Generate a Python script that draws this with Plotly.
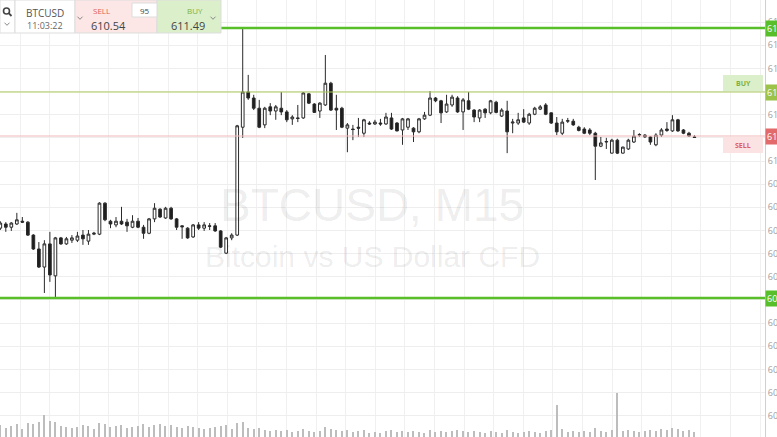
import plotly.graph_objects as go

# ---------------- data (BTCUSD, M15 candles) ----------------
opens = [608.55, 608.64, 608.57, 608.64, 608.70, 608.68, 608.40, 608.10, 607.71, 608.21,
         607.52, 608.34, 608.21, 608.29, 608.29, 608.40, 608.27, 608.42, 608.42, 609.09,
         608.70, 608.62, 608.70, 608.68, 608.57, 608.70, 608.57, 608.44, 608.75, 608.96,
         608.77, 608.98, 608.75, 608.60, 608.55, 608.36, 608.62, 608.55, 608.60, 608.60,
         608.49, 608.01, 608.34, 608.40, 610.73, 611.49, 611.36, 611.14, 610.78, 611.17,
         611.08, 611.14, 611.06, 610.91, 610.93, 610.93, 611.45, 611.23, 611.08, 611.21,
         611.68, 611.14, 611.14, 610.71, 610.69, 610.73, 610.60, 610.82, 610.80, 610.82,
         610.80, 610.93, 610.82, 610.67, 610.73, 610.71, 610.63, 610.91, 610.99, 611.36,
         611.30, 611.06, 611.21, 611.36, 611.06, 611.30, 611.10, 610.93, 611.12, 611.04,
         611.27, 610.97, 611.08, 610.82, 610.82, 610.93, 610.82, 611.01, 611.12, 611.21,
         611.04, 610.82, 610.60, 610.86, 610.86, 610.73, 610.69, 610.67, 610.60, 610.32,
         610.41, 610.17, 610.45, 610.17, 610.26, 610.41, 610.56, 610.56, 610.52, 610.35,
         610.56, 610.69, 610.65, 610.89, 610.67, 610.60, 610.52]
highs = [608.70, 608.68, 608.68, 608.88, 608.79, 608.70, 608.42, 608.25, 608.29, 608.47,
         608.36, 608.36, 608.36, 608.40, 608.47, 608.51, 608.51, 608.47, 609.11, 609.11,
         608.73, 608.79, 609.01, 608.75, 608.83, 608.77, 608.62, 608.77, 609.09, 608.98,
         609.01, 609.01, 608.77, 608.61, 608.57, 608.64, 608.68, 608.68, 608.66, 608.66,
         608.51, 608.36, 608.44, 610.78, 612.87, 611.86, 611.43, 611.32, 611.17, 611.25,
         611.21, 611.49, 611.10, 610.99, 611.21, 611.49, 611.47, 611.25, 611.27, 612.29,
         611.71, 611.43, 611.17, 610.82, 610.78, 610.93, 610.91, 610.86, 610.89, 610.91,
         611.04, 611.04, 610.84, 610.93, 610.93, 610.73, 610.93, 611.06, 611.51, 611.38,
         611.32, 611.43, 611.43, 611.40, 611.36, 611.49, 611.12, 611.12, 611.14, 611.32,
         611.30, 611.14, 611.30, 610.91, 611.04, 611.12, 611.04, 611.17, 611.21, 611.25,
         611.05, 610.95, 610.91, 610.93, 610.91, 610.76, 610.73, 610.71, 610.63, 610.52,
         610.50, 610.48, 610.48, 610.31, 610.48, 610.67, 610.60, 610.58, 610.54, 610.60,
         610.71, 610.84, 610.99, 610.91, 610.69, 610.63, 610.56]
lows = [608.51, 608.47, 608.49, 608.62, 608.66, 608.38, 608.08, 607.69, 607.15, 607.39,
        607.06, 608.19, 608.19, 608.23, 608.25, 608.19, 608.19, 608.40, 608.40, 608.70,
        608.55, 608.57, 608.62, 608.47, 608.55, 608.55, 608.32, 608.42, 608.68, 608.77,
        608.75, 608.73, 608.51, 608.32, 608.32, 608.34, 608.51, 608.49, 608.51, 608.47,
        608.12, 607.99, 608.29, 608.38, 610.50, 611.32, 611.10, 610.71, 610.71, 610.99,
        610.89, 610.99, 610.84, 610.78, 610.84, 610.91, 611.23, 611.04, 610.93, 611.19,
        611.08, 610.67, 610.71, 610.19, 610.45, 610.52, 610.52, 610.78, 610.78, 610.76,
        610.78, 610.67, 610.64, 610.35, 610.67, 610.41, 610.60, 610.89, 610.97, 611.27,
        610.82, 611.04, 611.17, 611.04, 610.67, 611.10, 610.84, 610.84, 610.93, 611.01,
        611.03, 610.95, 610.17, 610.60, 610.78, 610.82, 610.78, 610.99, 611.10, 610.99,
        610.80, 610.56, 610.56, 610.82, 610.76, 610.64, 610.58, 610.56, 609.59, 610.30,
        610.26, 610.16, 610.15, 610.16, 610.24, 610.39, 610.52, 610.50, 610.35, 610.32,
        610.52, 610.63, 610.63, 610.63, 610.58, 610.52, 610.50]
closes = [608.66, 608.57, 608.66, 608.73, 608.68, 608.40, 608.10, 607.71, 608.21, 607.54,
          608.34, 608.21, 608.32, 608.34, 608.38, 608.32, 608.42, 608.44, 609.09, 608.73,
          608.64, 608.70, 608.64, 608.60, 608.70, 608.57, 608.44, 608.75, 608.98, 608.79,
          608.98, 608.75, 608.57, 608.58, 608.34, 608.62, 608.55, 608.62, 608.59, 608.49,
          608.14, 608.34, 608.40, 610.76, 611.49, 611.36, 611.14, 610.73, 611.14, 611.08,
          611.17, 611.06, 610.89, 610.95, 610.92, 611.47, 611.25, 611.05, 611.25, 611.68,
          611.10, 611.10, 610.73, 610.78, 610.68, 610.71, 610.89, 610.80, 610.84, 610.80,
          610.95, 610.69, 610.65, 610.91, 610.91, 610.63, 610.91, 610.99, 611.36, 611.30,
          611.04, 611.23, 611.38, 611.06, 611.32, 611.12, 610.95, 611.10, 611.04, 611.30,
          611.05, 611.10, 610.63, 610.84, 610.89, 610.84, 611.01, 611.14, 611.17, 611.01,
          610.82, 610.63, 610.84, 610.87, 610.78, 610.66, 610.60, 610.60, 610.32, 610.39,
          610.42, 610.45, 610.17, 610.30, 610.45, 610.54, 610.57, 610.52, 610.41, 610.56,
          610.67, 610.66, 610.89, 610.65, 610.60, 610.54, 610.51]
volumes = [120, 90, 110, 130, 80, 140, 130, 150, 220, 160,
           150, 110, 100, 90, 100, 120, 110, 80, 140, 130,
           100, 110, 120, 90, 100, 110, 130, 100, 120, 130,
           110, 120, 100, 90, 110, 100, 90, 80, 90, 100,
           110, 120, 80, 140, 150, 90, 80, 90, 70, 60,
           70, 60, 70, 50, 60, 80, 60, 50, 60, 100,
           80, 70, 60, 70, 50, 60, 70, 40, 50, 40,
           60, 70, 50, 60, 50, 60, 50, 40, 70, 50,
           60, 50, 60, 70, 60, 50, 60, 50, 40, 60,
           50, 40, 70, 50, 40, 50, 60, 50, 40, 60,
           70, 320, 80, 50, 60, 50, 60, 50, 90, 60,
           50, 70, 440, 60, 70, 60, 50, 60, 70, 60,
           80, 70, 90, 80, 60, 70, 50]
candle_index = list(range(len(opens)))

SYMBOL = "BTCUSD"
CLOCK = "11:03:22"
SELL_PRICE = 610.54
BUY_PRICE = 611.49
SPREAD = "95"
RESISTANCE = 612.87
SUPPORT = 607.04
TITLE_1 = "BTCUSD, M15"
TITLE_2 = "Bitcoin vs US Dollar CFD"

# ---------------- layout helpers ----------------
W, H = 777, 437
PW = 765.0  # plot area width in px


def px(x):
    return x / PW


def py(y):
    return 1 - y / H


GREEN = "#58bf2b"
BUY_LINE = "#a9c95a"
SELL_LINE = "#f1b9b9"
FONT = "Open Sans"

fig = go.Figure()
fig.add_trace(go.Bar(x=candle_index, y=volumes, yaxis="y2", width=0.22,
                     marker=dict(color="#bdbdbd", line=dict(width=0)),
                     hoverinfo="skip", showlegend=False))
fig.add_trace(go.Candlestick(
    x=candle_index, open=opens, high=highs, low=lows, close=closes,
    increasing=dict(line=dict(color="#2a2a2a", width=1), fillcolor="#ffffff"),
    decreasing=dict(line=dict(color="#2a2a2a", width=1), fillcolor="#1e1e1e"),
    whiskerwidth=0, showlegend=False))

shapes = []
annotations = []


def label(x, y, text, color, size, family=FONT, **kw):
    d = dict(xref="paper", yref="paper", x=px(x), y=py(y), text=text, showarrow=False,
             xanchor="center", yanchor="middle",
             font=dict(color=color, size=size, family=family))
    d.update(kw)
    annotations.append(d)


# price lines
for level, color, w in [(RESISTANCE, GREEN, 2.5), (BUY_PRICE, BUY_LINE, 1.2),
                        (SELL_PRICE, SELL_LINE, 1.2), (SUPPORT, GREEN, 2.5)]:
    shapes.append(dict(type="line", xref="paper", yref="y", x0=0, x1=1, y0=level, y1=level,
                       line=dict(color=color, width=w), layer="above"))

# axis price tags
for level, color in [(RESISTANCE, GREEN), (BUY_PRICE, "#9cc24a"),
                     (SELL_PRICE, "#e26a6a"), (SUPPORT, GREEN)]:
    annotations.append(dict(xref="paper", yref="y", x=1.0, y=level, xanchor="left",
                            yanchor="middle", text=f"{level:.2f}", showarrow=False,
                            bgcolor=color, borderpad=1,
                            font=dict(color="white", size=9, family=FONT)))

# right-side BUY / SELL boxes
shapes.append(dict(type="rect", xref="paper", yref="paper", x0=px(723), x1=px(763),
                   y0=py(91), y1=py(75), fillcolor="#dcefcb", line=dict(width=0), layer="above"))
label(743, 83.5, "<b>BUY</b>", "#7fb23f", 7)
shapes.append(dict(type="rect", xref="paper", yref="paper", x0=px(723), x1=px(763),
                   y0=py(153), y1=py(137), fillcolor="#fbe3e3", line=dict(width=0), layer="above"))
label(743, 145.5, "<b>SELL</b>", "#e06060", 7)

# top-left trading panel
panel_boxes = [
    (0, 15, "#ffffff"), (15, 75, "#ffffff"), (75, 157, "#fce6e6"), (157, 221, "#dcefcb"),
]
for x0, x1, fc in panel_boxes:
    shapes.append(dict(type="rect", xref="paper", yref="paper", x0=px(x0), x1=px(x1),
                       y0=py(33), y1=py(0), fillcolor=fc,
                       line=dict(color="#dddddd", width=1), layer="above"))
shapes.append(dict(type="rect", xref="paper", yref="paper", x0=px(132), x1=px(157),
                   y0=py(17), y1=py(3), fillcolor="#ffffff",
                   line=dict(color="#dddddd", width=1), layer="above"))
# magnifier icon
shapes.append(dict(type="circle", xref="paper", yref="paper", x0=px(3.5), x1=px(9.5),
                   y0=py(14), y1=py(8), line=dict(color="#444444", width=1.6), layer="above"))
shapes.append(dict(type="line", xref="paper", yref="paper", x0=px(8.7), x1=px(11.5),
                   y0=py(13.2), y1=py(16), line=dict(color="#444444", width=1.8), layer="above"))


def chevron(cx, cy):
    return (f"M {px(cx - 2.5)} {py(cy - 1.3)} L {px(cx)} {py(cy + 1.3)} "
            f"L {px(cx + 2.5)} {py(cy - 1.3)}")


for cx, cy in [(7, 24), (80, 18), (213, 18)]:
    shapes.append(dict(type="path", xref="paper", yref="paper", path=chevron(cx, cy),
                       line=dict(color="#888888", width=1), layer="above"))

label(45, 13, SYMBOL, "#555555", 10)
label(45, 25.5, CLOCK, "#666666", 9)
label(101, 10.5, "SELL", "#e0605a", 8)
label(108, 25, f"{SELL_PRICE:.2f}", "#444444", 11)
label(144.5, 10, SPREAD, "#444444", 8)
label(195, 10.5, "BUY", "#7fb23f", 8)
label(188, 25, f"{BUY_PRICE:.2f}", "#444444", 11)

# watermark
label(372, 205, TITLE_1, "rgba(0,0,0,0.085)", 46, family="Liberation Sans")
label(372, 256, TITLE_2, "rgba(0,0,0,0.085)", 30, family="Liberation Sans")

fig.update_layout(
    width=W, height=H,
    margin=dict(l=0, r=W - PW, t=0, b=0, pad=0, autoexpand=False),
    paper_bgcolor="white", plot_bgcolor="white",
    showlegend=False,
    xaxis=dict(range=[-0.055, 138.8], rangeslider=dict(visible=False), automargin=False,
               showticklabels=False, showgrid=True, gridcolor="#f0f0f0",
               tick0=3.58, dtick=5.373, zeroline=False, showline=False),
    yaxis=dict(range=[604.04, 613.477], side="right", dtick=0.5, tick0=0, automargin=False,
               showgrid=True, gridcolor="#eeeeee", zeroline=False,
               showline=True, linecolor="#d0d0d0", linewidth=1,
               tickfont=dict(size=9, color="#a0a0a0", family=FONT),
               ticks="", tickformat=".2f"),
    yaxis2=dict(range=[0, 4370], overlaying="y", visible=False, fixedrange=True,
                automargin=False),
    shapes=shapes, annotations=annotations,
    bargap=0,
)

fig.write_html("out.html", config={"displayModeBar": False},
               post_script="document.body.style.margin='0';")
